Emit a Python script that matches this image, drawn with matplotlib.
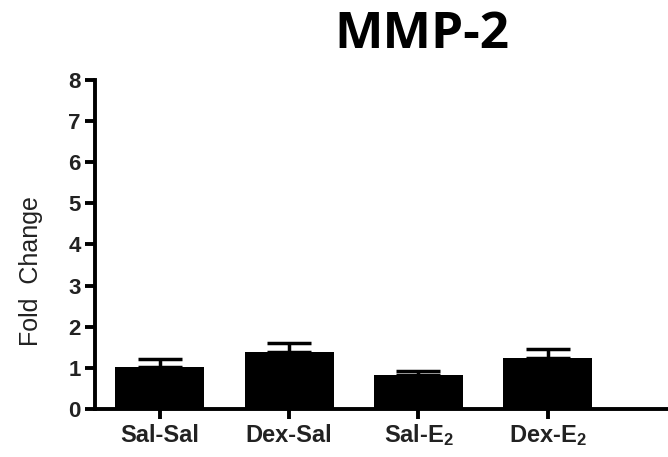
import numpy as np
import matplotlib
matplotlib.use("Agg")
import matplotlib.pyplot as plt

groups = ["Sal-Sal", "Dex-Sal", "Sal-E$_2$", "Dex-E$_2$"]
means = [1.02, 1.39, 0.83, 1.24]
errs = [0.20, 0.22, 0.10, 0.22]
yticks = [0, 1, 2, 3, 4, 5, 6, 7, 8]

plt.rcParams['font.family'] = ['Liberation Sans', 'DejaVu Sans']
plt.rcParams['mathtext.fontset'] = 'custom'
plt.rcParams['mathtext.rm'] = 'Liberation Sans:bold'
plt.rcParams['mathtext.it'] = 'Liberation Sans:bold'

fig = plt.figure(figsize=(6.68, 4.57), dpi=100)
ax = fig.add_axes([0.142, 0.105, 0.858, 0.72])

x = np.arange(len(groups))
ax.bar(x, means, width=0.69, color='black', zorder=2)
ax.errorbar(x, means, yerr=[np.zeros(len(errs)), errs], fmt='none', ecolor='black',
            elinewidth=2.5, capsize=16, capthick=2.5, zorder=1)

ax.set_xlim(-0.503, 3.93)
ax.set_ylim(0, 8)
ax.set_yticks(yticks)
ax.set_xticks(x)
ax.set_xticklabels(groups, fontsize=17, fontweight='bold', color='#222222', va='baseline')
for lab in ax.get_yticklabels():
    lab.set_fontsize(16)
    lab.set_fontweight('bold')
    lab.set_color('#222222')

for s in ['top', 'right']:
    ax.spines[s].set_visible(False)
for s in ['left', 'bottom']:
    ax.spines[s].set_linewidth(2.8)
ax.tick_params(axis='both', width=2.8, length=7, direction='out')
ax.tick_params(axis='x', pad=17)
ax.tick_params(axis='y', pad=3)

ax.set_ylabel("Fold  Change", fontsize=18, color='#222222')
ax.yaxis.set_label_coords(-0.09, 0.42)

fig.text(0.632, 0.923, "MMP-2", fontsize=37, fontweight='bold', ha='center', va='center',
         family=['Open Sans', 'DejaVu Sans'])

fig.savefig("out.png", dpi=100)
